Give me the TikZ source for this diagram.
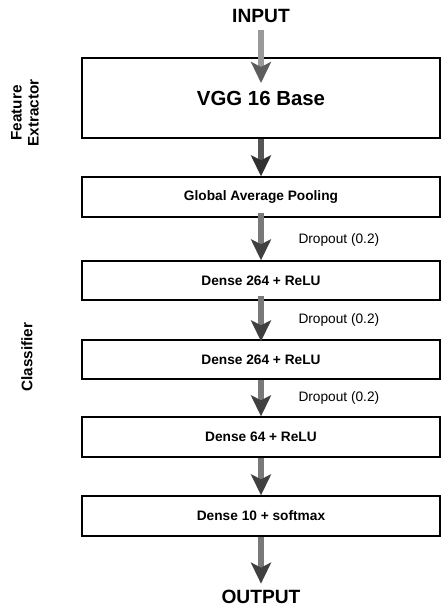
\documentclass[tikz,border=0pt]{standalone}
\usepackage{fontspec}
\setmainfont{Liberation Sans}
\usetikzlibrary{arrows.meta}
\tikzset{
  layer/.style={draw=black, line width=1.3pt, minimum width=358pt, inner sep=0pt, font=\fontsize{13.7}{16}\selectfont\bfseries},
  lbl/.style={font=\fontsize{13.7}{16}\selectfont, anchor=west},
  side/.style={font=\fontsize{15.3}{17}\selectfont\bfseries, rotate=90, align=center},
  flowA/.style={line width=5.5pt, draw=arrA, -{Stealth[length=21pt,width=20pt,inset=5pt,color=arrAh]}},
  flowB/.style={line width=5.5pt, draw=arrB, -{Stealth[length=21pt,width=20pt,inset=5pt,color=arrBh]}},
  flowC/.style={line width=5.5pt, draw=arrC, -{Stealth[length=21pt,width=20pt,inset=5pt,color=arrCh]}},
}
\definecolor{arrA}{HTML}{999999}
\definecolor{arrAh}{HTML}{5E5E5E}
\definecolor{arrB}{HTML}{555555}
\definecolor{arrBh}{HTML}{303030}
\definecolor{arrC}{HTML}{797979}
\definecolor{arrCh}{HTML}{404040}
\begin{document}
\begin{tikzpicture}[x=1pt,y=-1pt]
\useasboundingbox (0,0) rectangle (442,612);
\node[font=\fontsize{19.2}{22}\selectfont\bfseries] (in) at (261,16) {INPUT};
\node[font=\fontsize{19.2}{22}\selectfont\bfseries] (out) at (261,597) {OUTPUT};
\node[layer, minimum height=80pt, font=\fontsize{20.4}{22}\selectfont\bfseries] (vgg) at (261,98) {VGG 16 Base};
\node[layer, minimum height=40pt] (gap) at (261,197) {Global Average Pooling};
\node[layer, minimum height=39pt] (d1) at (261,280.5) {Dense 264 + ReLU};
\node[layer, minimum height=39pt] (d2) at (261,359.5) {Dense 264 + ReLU};
\node[layer, minimum height=40pt] (d3) at (261,437) {Dense 64 + ReLU};
\node[layer, minimum height=40pt] (d4) at (261,516) {Dense 10 + softmax};
\node[lbl] (p1) at (295,240) {Dropout (0.2)};
\node[lbl] (p2) at (295,320) {Dropout (0.2)};
\node[lbl] (p3) at (295,398) {Dropout (0.2)};
\node[side] (fe) at (25,113) {Feature\\Extractor};
\node[side] (cl) at (27,357) {Classifier};
\coordinate (a0) at (261,30);
\coordinate (a1) at (261,83);
\draw[flowA] (a0) -- (a1);
\draw[flowB] (vgg.south) -- (gap.north);
\draw[flowC] ([yshift=5pt]gap.south) -- (d1.north);
\draw[flowC] ([yshift=5pt]d1.south) -- ([yshift=-2pt]d2.north);
\draw[flowC] (d2.south) -- (d3.north);
\draw[flowC] (d3.south) -- (d4.north);
\draw[flowC] (d4.south) -- ([yshift=3pt]out.north);
\end{tikzpicture}
\end{document}
